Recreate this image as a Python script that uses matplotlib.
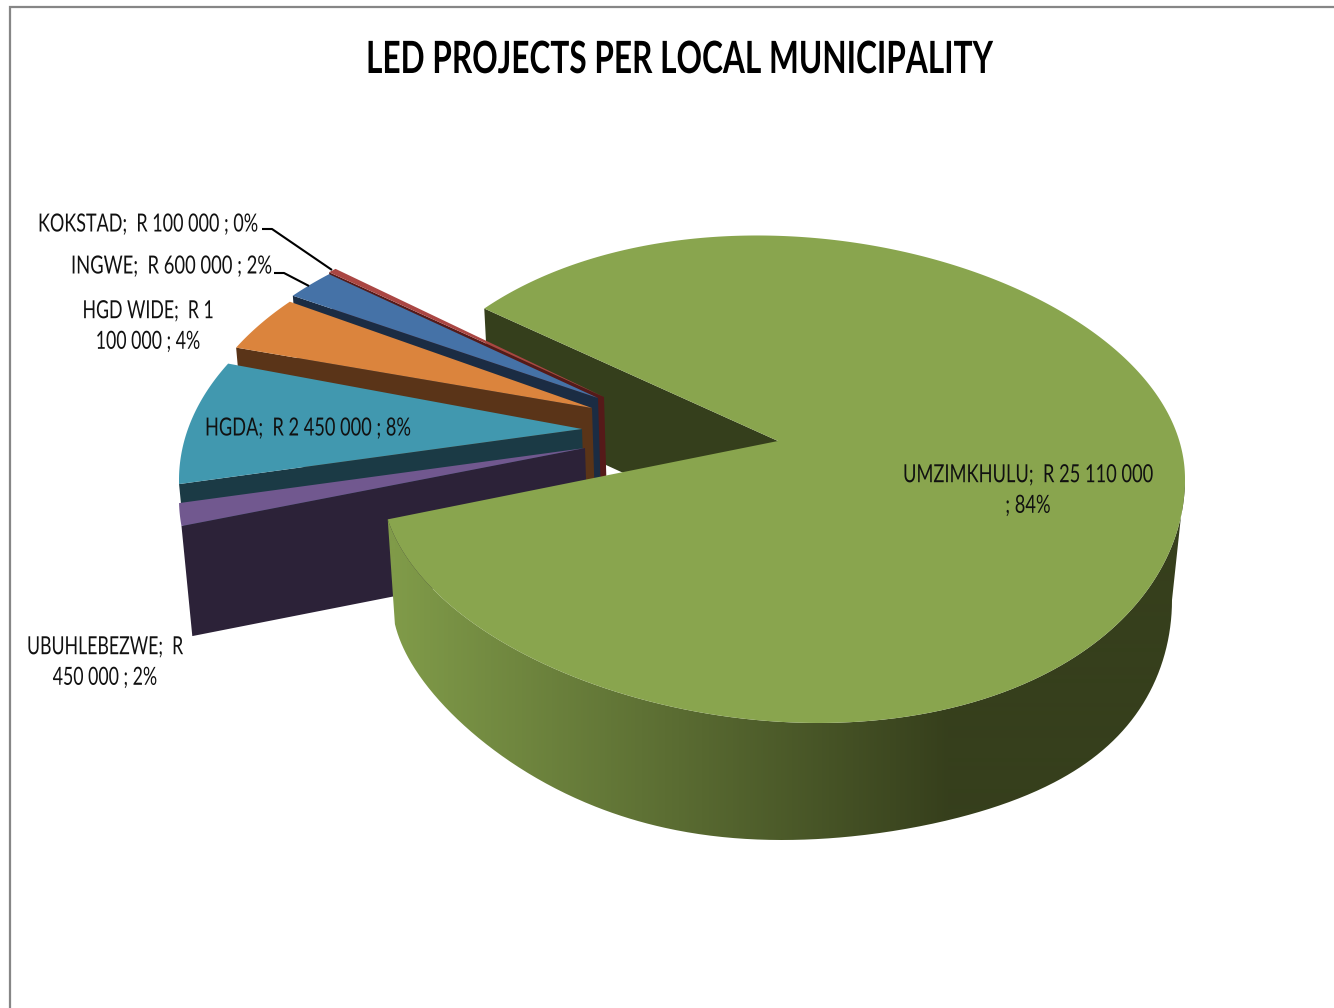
import numpy as np
import matplotlib
matplotlib.use("Agg")
import matplotlib.pyplot as plt
from matplotlib.colors import LinearSegmentedColormap
from matplotlib.patches import PathPatch, Polygon
from matplotlib.path import Path
from matplotlib.patheffects import AbstractPathEffect
from matplotlib.transforms import Affine2D

# Budget per municipality (rand)
regions = ["UMZIMKHULU", "UBUHLEBEZWE", "HGDA", "HGD WIDE", "INGWE", "KOKSTAD"]
budgets = [25110000, 450000, 2450000, 1100000, 600000, 100000]
title = "LED PROJECTS PER LOCAL MUNICIPALITY"

# Colours of the top faces and side walls
top_colors = ["#89A54E", "#71588F", "#4198AF", "#DB843D", "#4572A7", "#AA4643"]
wall_colors = ["#353F1C", "#2C2238", "#1B3A45", "#5A3418", "#1B2C43", "#551A19"]

# Pie geometry in canvas pixels
W, H = 1334, 1008
RX, RY = 402, 243
MAIN_CENTER = (783, 479)
MAIN_APEX = (778, 441)
MAIN_BASE = (782, 600, 390, 240)
MAIN_START = 169.5
MAIN_GAP_SCALE = 0.925
MAIN_INNER_DEPTH = 103
BASE_CORNER_SHIFT = 3.5
LOWER_TILT = 0.09
UPPER_TILT = 0.065
BASE_TILT = 0.18
SLICE_DEPTH = 110
PERSPECTIVE = 0.018
FAN_START = 173.6
fan_centers = [(581, 499), (581, 480), (589, 464), (592, 458), (592, 456)]
fan_apexes = [(585, 448), (582, 429), (592, 408), (598, 398), (604, 397)]

# Data label placement: x, y, horizontal anchor, text after which the line wraps, drawn width
label_specs = [
    (1028, 490, "center", "R 25 110 000", 250),
    (27, 662, "left", "R", 156),
    (205, 428, "left", None, 206),
    (148, 326, "center", "R 1", 131),
    (71, 266, "left", None, 201),
    (38, 224, "left", None, 220),
]
leaders = {
    "KOKSTAD": [(262, 229), (272, 229), (332, 270)],
    "INGWE": [(274, 273), (284, 273), (309, 286)],
}
TITLE_POS = (680.5, 60)
TITLE_WIDTH = 629


class Squeeze(AbstractPathEffect):
    """Narrows glyph outlines horizontally about a fixed canvas x."""

    def __init__(self, factor, anchor):
        super().__init__()
        self.factor = factor
        self.anchor = anchor

    def draw_path(self, renderer, gc, tpath, affine, rgbFace=None):
        narrow = Affine2D().translate(-self.anchor, 0).scale(self.factor, 1).translate(self.anchor, 0)
        renderer.draw_path(gc, tpath, affine + narrow, rgbFace)


def ellipse(cx, cy, rx, ry, t0, t1, n=200):
    t = np.radians(np.linspace(t0, t1, n))
    return np.column_stack([cx + rx * np.cos(t), cy + ry * np.sin(t)])


def tilted_rim(cx, cy, rx, ry, t0, t1, n=500):
    # The receding view fattens the lower right and the upper left of the disc
    t = np.radians(np.linspace(t0, t1, n))
    c, s = np.cos(t), np.sin(t)
    factor = np.where(s > 0, 1 + LOWER_TILT * c, 1 - UPPER_TILT * c)
    return np.column_stack([cx + rx * c, cy + ry * s * factor])


def base_rim_points(cx, cy, rx, ry, t0, t1, n=500):
    # The lower rim bulges mostly toward its right-hand shoulder
    t = np.radians(np.linspace(t0, t1, n))
    c, s = np.cos(t), np.sin(t)
    return np.column_stack([cx + rx * c, cy + ry * s * (1 + BASE_TILT * c ** 3)])


def lowered(points, depth):
    pts = np.atleast_2d(points).astype(float)
    return np.column_stack([pts[:, 0] + (782 - pts[:, 0]) * PERSPECTIVE, pts[:, 1] + depth])


def money(value):
    return f"{value:,}".replace(",", " ")


def label_text(name, value, total, wrap):
    text = f"{name};  R {money(value)} ; {round(100 * value / total)}%"
    if wrap:
        cut = text.index(wrap) + len(wrap)
        text = text[:cut].rstrip() + "\n" + text[cut:].lstrip()
    return text


def fit_width(artist, anchor_x, width):
    extent = artist.get_window_extent(fig.canvas.get_renderer())
    artist.set_path_effects([Squeeze(width / extent.width, anchor_x)])


fig = plt.figure(figsize=(W / 100, H / 100), dpi=100, facecolor="white")
ax = fig.add_axes([0, 0, 1, 1])
ax.axis("off")

total = sum(budgets)
spans = [360.0 * v / total for v in budgets]
gap = sum(spans[1:]) * MAIN_GAP_SCALE
main_t0 = MAIN_START + gap
main_t1 = MAIN_START + 360.0

# Chart frame (only the top and left edges fall on the canvas)
ax.plot([10, 10, W], [H, 7, 7], color="#868686", lw=1.6, solid_joinstyle="miter")

# Inner wall of the large slice, seen through the gap
corner = tilted_rim(*MAIN_CENTER, RX, RY, main_t0, main_t0, 1)
inner = np.vstack([corner, [MAIN_APEX], lowered(MAIN_APEX, MAIN_INNER_DEPTH), lowered(corner, MAIN_INNER_DEPTH)])
ax.add_patch(Polygon(inner, closed=True, fc=wall_colors[0], ec="none"))

# Exploded slices, back to front
fan_spans = spans[1:]
starts = FAN_START + np.concatenate([[0], np.cumsum(fan_spans)[:-1]])
for i in reversed(range(len(fan_spans))):
    cx, cy = fan_centers[i]
    apex = np.array(fan_apexes[i], dtype=float)
    arc = ellipse(cx, cy, RX, RY, starts[i], starts[i] + fan_spans[i], 60)
    wall = np.vstack([arc[0], apex, lowered(apex, SLICE_DEPTH), lowered(arc[0], SLICE_DEPTH)])
    ax.add_patch(Polygon(wall, closed=True, fc=wall_colors[i + 1], ec="none"))
    ax.add_patch(Polygon(np.vstack([apex, arc]), closed=True, fc=top_colors[i + 1], ec="none"))

# Outer wall of the large slice with its horizontal shading
top_rim = tilted_rim(*MAIN_CENTER, RX, RY, 360, main_t1)
base_rim = base_rim_points(*MAIN_BASE[:2], *MAIN_BASE[2:], main_t1 + BASE_CORNER_SHIFT, 360)
rim = np.vstack([top_rim, base_rim, top_rim[:1]])
shade = LinearSegmentedColormap.from_list("rim", ["#809B49", "#363F1C"])
gradient = np.clip((np.arange(W) - 393) / (950 - 393), 0, 1).reshape(1, -1)
img = ax.imshow(gradient, cmap=shade, extent=(0, W, H, 0), aspect="auto",
                interpolation="bilinear", zorder=1.5)
img.set_clip_path(PathPatch(Path(rim), transform=ax.transData))

# Top face of the large slice
main_arc = tilted_rim(*MAIN_CENTER, RX, RY, main_t0, main_t1)
ax.add_patch(Polygon(np.vstack([MAIN_APEX, main_arc]), closed=True, fc=top_colors[0], ec="none", zorder=1.6))

ax.set_xlim(0, W)
ax.set_ylim(H, 0)

# Leader lines for the two thinnest slices
for pts in leaders.values():
    xs, ys = zip(*pts)
    ax.plot(xs, ys, color="black", lw=1.5, solid_capstyle="butt")

# Data labels
for name, value, (x, y, ha, wrap, width) in zip(regions, budgets, label_specs):
    t = ax.text(x, y, label_text(name, value, total, wrap), ha=ha, va="center", ma="center",
                family="Lato", fontsize=18, color="#111111", linespacing=1.4)
    fit_width(t, x, width)

head = ax.text(*TITLE_POS, title, ha="center", va="center", family="Lato", fontsize=32,
               fontweight="bold", color="black")
fit_width(head, TITLE_POS[0], TITLE_WIDTH)

fig.savefig("out.png", dpi=100, facecolor="white")
